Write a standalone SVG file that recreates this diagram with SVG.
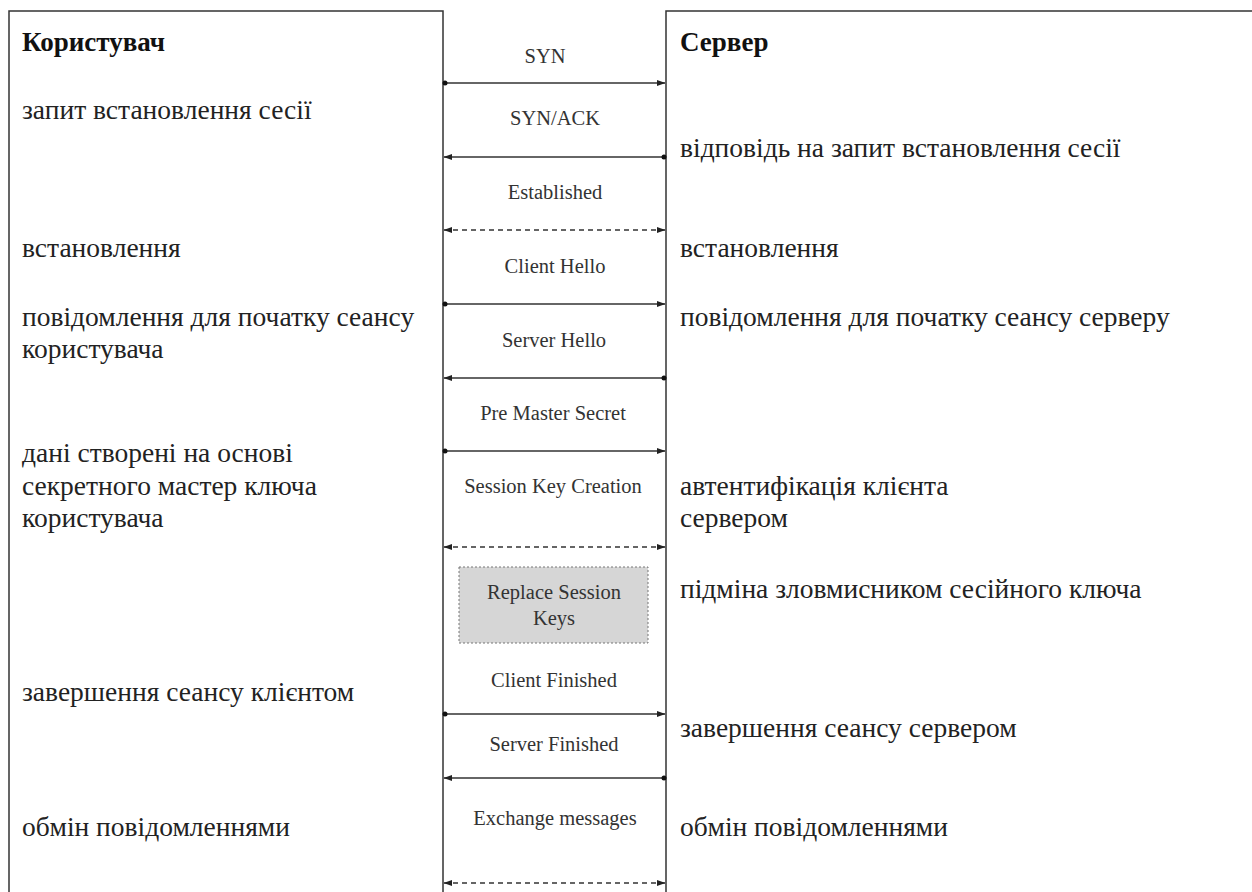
<svg xmlns="http://www.w3.org/2000/svg" width="1252" height="892" viewBox="0 0 1252 892">
  <defs>
    <marker id="head" markerWidth="9" markerHeight="7" refX="8" refY="3.5" orient="auto-start-reverse" markerUnits="userSpaceOnUse">
      <path d="M0,0.5 L8.5,3.5 L0,6.5 z" fill="#222"/>
    </marker>
    <marker id="dot" markerWidth="6" markerHeight="6" refX="3" refY="3" markerUnits="userSpaceOnUse">
      <circle cx="3" cy="3" r="2.5" fill="#111"/>
    </marker>
  </defs>
  <style>
    .lane { fill: #ffffff; stroke: #333; stroke-width: 1.5; }
    .title { font-family: "Liberation Serif", "DejaVu Serif", serif; font-size: 27px; font-weight: bold; fill: #111; }
    .note { font-family: "Liberation Serif", "DejaVu Serif", serif; font-size: 27.5px; fill: #222; }
    .msg { font-family: "Liberation Serif", "DejaVu Serif", serif; font-size: 20.5px; fill: #333; text-anchor: middle; }
    .arrow { stroke: #333; stroke-width: 1.6; fill: none; }
    .dashed { stroke-dasharray: 5 4; }
    .swap { fill: #d6d6d6; stroke: #777; stroke-width: 1; stroke-dasharray: 2 2; }
  </style>
  <rect width="1252" height="892" fill="#ffffff"/>

  <!-- client lane -->
  <g id="client">
    <rect class="lane" x="9" y="11" width="434" height="900"/>
    <text class="title" x="22" y="51">Користувач</text>
    <text class="note" x="22" y="119">запит встановлення сесії</text>
    <text class="note" x="22" y="257">встановлення</text>
    <text class="note" x="22" y="326">повідомлення для початку сеансу</text>
    <text class="note" x="22" y="358">користувача</text>
    <text class="note" x="22" y="462">дані створені на основі</text>
    <text class="note" x="22" y="495">секретного мастер ключа</text>
    <text class="note" x="22" y="527">користувача</text>
    <text class="note" x="22" y="701">завершення сеансу клієнтом</text>
    <text class="note" x="22" y="836">обмін повідомленнями</text>
  </g>

  <!-- server lane -->
  <g id="server">
    <rect class="lane" x="666" y="11" width="620" height="900"/>
    <text class="title" x="680" y="51">Сервер</text>
    <text class="note" x="680" y="157">відповідь на запит встановлення сесії</text>
    <text class="note" x="680" y="257">встановлення</text>
    <text class="note" x="680" y="326">повідомлення для початку сеансу серверу</text>
    <text class="note" x="680" y="495">автентифікація клієнта</text>
    <text class="note" x="680" y="527">сервером</text>
    <text class="note" x="680" y="598">підміна зловмисником сесійного ключа</text>
    <text class="note" x="680" y="737">завершення сеансу сервером</text>
    <text class="note" x="680" y="836">обмін повідомленнями</text>
  </g>

  <!-- attacker step between the lanes -->
  <g id="replace-keys">
    <rect class="swap" x="459" y="567" width="189" height="76"/>
    <text class="msg" x="554" y="599">Replace Session</text>
    <text class="msg" x="554" y="625">Keys</text>
  </g>

  <!-- message labels -->
  <g id="labels">
    <text class="msg" x="545" y="63">SYN</text>
    <text class="msg" x="555" y="125">SYN/ACK</text>
    <text class="msg" x="555" y="199">Established</text>
    <text class="msg" x="555" y="273">Client Hello</text>
    <text class="msg" x="554" y="347">Server Hello</text>
    <text class="msg" x="553" y="420">Pre Master Secret</text>
    <text class="msg" x="553" y="493">Session Key Creation</text>
    <text class="msg" x="554" y="687">Client Finished</text>
    <text class="msg" x="554" y="751">Server Finished</text>
    <text class="msg" x="555" y="825">Exchange messages</text>
  </g>

  <!-- connectors -->
  <g id="connectors">
    <line class="arrow" x1="445" y1="83" x2="665" y2="83" marker-start="url(#dot)" marker-end="url(#head)"/>
    <line class="arrow" x1="664" y1="157" x2="444" y2="157" marker-start="url(#dot)" marker-end="url(#head)"/>
    <line class="arrow dashed" x1="444" y1="230" x2="665" y2="230" marker-start="url(#head)" marker-end="url(#head)"/>
    <line class="arrow" x1="445" y1="304" x2="665" y2="304" marker-start="url(#dot)" marker-end="url(#head)"/>
    <line class="arrow" x1="664" y1="378" x2="444" y2="378" marker-start="url(#dot)" marker-end="url(#head)"/>
    <line class="arrow" x1="445" y1="451" x2="665" y2="451" marker-start="url(#dot)" marker-end="url(#head)"/>
    <line class="arrow dashed" x1="444" y1="547" x2="665" y2="547" marker-start="url(#head)" marker-end="url(#head)"/>
    <line class="arrow" x1="445" y1="714" x2="665" y2="714" marker-start="url(#dot)" marker-end="url(#head)"/>
    <line class="arrow" x1="664" y1="778" x2="444" y2="778" marker-start="url(#dot)" marker-end="url(#head)"/>
    <line class="arrow dashed" x1="444" y1="883" x2="665" y2="883" marker-start="url(#head)" marker-end="url(#head)"/>
  </g>
</svg>
